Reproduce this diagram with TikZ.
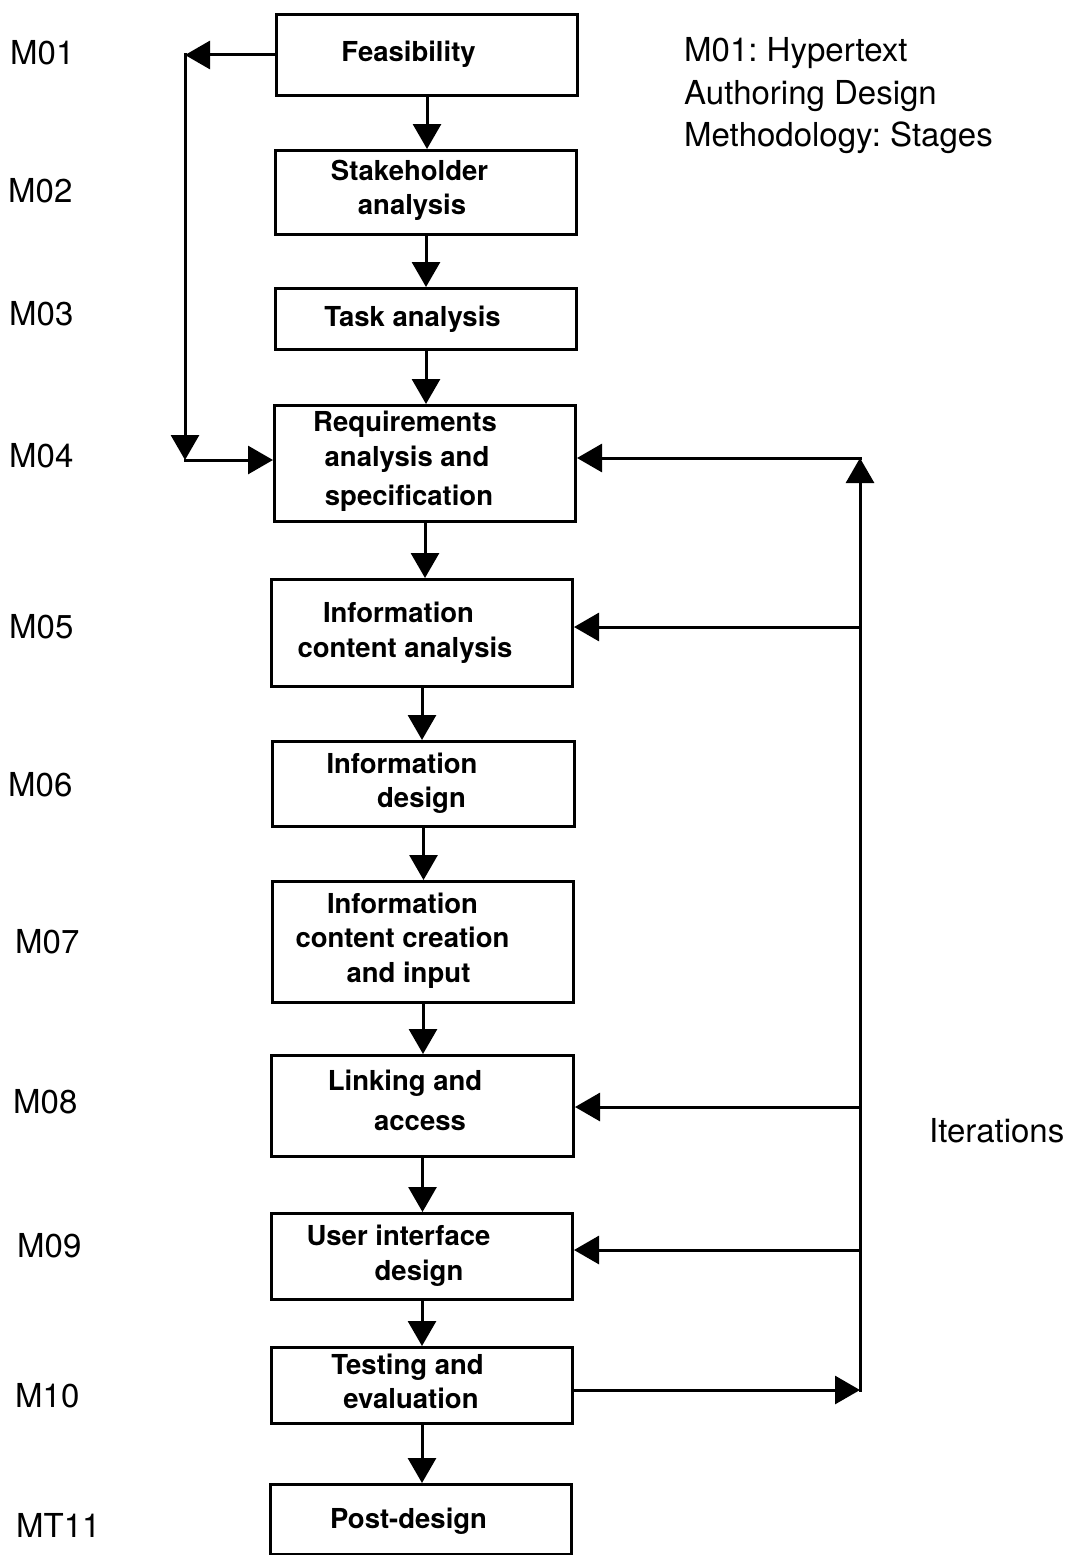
\documentclass[tikz,border=0pt]{standalone}
\usepackage{fontspec}
\setmainfont{TeX Gyre Heros}
\usetikzlibrary{arrows.meta}
\frenchspacing
\begin{document}
\begin{tikzpicture}[x=1pt,y=-1pt,
  stage/.style={draw, line width=3pt, inner sep=0pt, anchor=north west},
  boxtext/.style={anchor=base, inner sep=0pt, font=\fontsize{27.5}{32}\selectfont\bfseries},
  code/.style={anchor=base west, inner sep=0pt, font=\fontsize{33}{42}\selectfont},
  flow/.style={line width=3pt, line cap=rect, -{Triangle[length=25pt,width=28pt]}}]

\useasboundingbox (0,0) rectangle (1068,1555);

% stage boxes
\node[stage, minimum width=301pt, minimum height=81pt]  (m1)  at (275,13)   {};
\node[stage, minimum width=301pt, minimum height=84pt]  (m2)  at (274,149)  {};
\node[stage, minimum width=301pt, minimum height=61pt]  (m3)  at (274,287)  {};
\node[stage, minimum width=301pt, minimum height=116pt] (m4)  at (273,404)  {};
\node[stage, minimum width=301pt, minimum height=107pt] (m5)  at (270,578)  {};
\node[stage, minimum width=302pt, minimum height=85pt]  (m6)  at (271,740)  {};
\node[stage, minimum width=301pt, minimum height=121pt] (m7)  at (271,880)  {};
\node[stage, minimum width=302pt, minimum height=101pt] (m8)  at (270,1054) {};
\node[stage, minimum width=301pt, minimum height=86pt]  (m9)  at (270,1212) {};
\node[stage, minimum width=301pt, minimum height=76pt]  (m10) at (270,1346) {};
\node[stage, minimum width=301pt, minimum height=70pt]  (m11) at (269,1483) {};

% stage titles
\node[boxtext] (t1)  at (408.5,62)  {Feasibility};
\node[boxtext] (t2a) at (409.5,180) {Stakeholder};
\node[boxtext] (t2b) at (412,214)   {analysis};
\node[boxtext] (t3)  at (412.5,326) {Task analysis};
\node[boxtext] (t4a) at (405,431)   {Requirements};
\node[boxtext] (t4b) at (407,466)   {analysis and};
\node[boxtext] (t4c) at (409,505)   {specification};
\node[boxtext] (t5a) at (398.5,622) {Information};
\node[boxtext] (t5b) at (405,657)   {content analysis};
\node[boxtext] (t6a) at (402,773)   {Information};
\node[boxtext] (t6b) at (421.5,807) {design};
\node[boxtext] (t7a) at (402.5,913) {Information};
\node[boxtext] (t7b) at (402.5,947) {content creation};
\node[boxtext] (t7c) at (408.5,982) {and input};
\node[boxtext] (t8a) at (405,1090)  {Linking and};
\node[boxtext] (t8b) at (420,1130)  {access};
\node[boxtext] (t9a) at (398.5,1245){User interface};
\node[boxtext] (t9b) at (419,1280)  {design};
\node[boxtext] (t10a) at (407.5,1374){Testing and};
\node[boxtext] (t10b) at (411,1408) {evaluation};
\node[boxtext] (t11) at (408.5,1528){Post-design};

% stage codes
\node[code] (c1)  at (10,64)   {M01};
\node[code] (c2)  at (8,202)   {M02};
\node[code] (c3)  at (9,325)   {M03};
\node[code] (c4)  at (9,467)   {M04};
\node[code] (c5)  at (9,638)   {M05};
\node[code] (c6)  at (8,796)   {M06};
\node[code] (c7)  at (15,953)  {M07};
\node[code] (c8)  at (13,1113) {M08};
\node[code] (c9)  at (17,1257) {M09};
\node[code] (c10) at (15,1407) {M10};
\node[code] (c11) at (16,1537) {MT11};

% heading and side note
\node[code] (h1) at (684,62)  {M01: Hypertext};
\node[code] (h2) at (684,104) {Authoring Design};
\node[code] (h3) at (684,146) {Methodology: Stages};
\node[code] (it) at (929,1142) {Iterations};

% main sequence
\foreach \a/\b in {m1/m2, m2/m3, m3/m4, m4/m5, m5/m6, m6/m7, m7/m8, m8/m9, m9/m10, m10/m11}
  \draw[flow] (\a.south) -- (\a.south |- \b.north);

% feedback from feasibility to requirements
\path (m1.west) ++(-90,0) coordinate (lt);
\coordinate (lb) at (185,460);
\draw[flow] (m1.west) -- (lt);
\draw[flow] (lt) -- (lb);
\draw[flow] (lb) -- (lb -| m4.west);

% iteration loop
\coordinate (rb) at (860,1390);
\coordinate (rt) at (860,458);
\coordinate (r5) at (860,627);
\coordinate (r8) at (860,1107);
\coordinate (r9) at (860,1250);
\draw[flow] (rb -| m10.east) -- (rb);
\draw[flow] (rb) -- (rt);
\draw[flow] (rt) -- (rt -| m4.east);
\draw[flow] (r5) -- (r5 -| m5.east);
\draw[flow] (r8) -- (r8 -| m8.east);
\draw[flow] (r9) -- (r9 -| m9.east);
\end{tikzpicture}
\end{document}
